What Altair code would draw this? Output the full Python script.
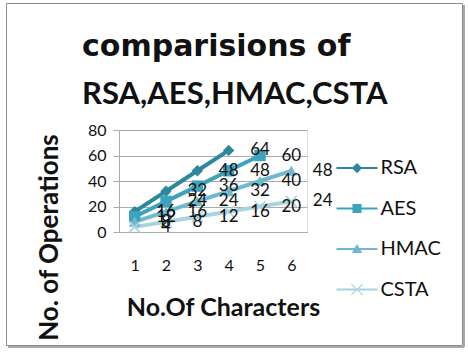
import altair as alt
import pandas as pd

# Number of operations per algorithm for 1..6 characters
chars = [1, 2, 3, 4, 5, 6]
rsa = [16, 32, 48, 64]
aes = [12, 24, 36, 48, 60]
hmac = [8, 16, 24, 32, 40, 48]
csta = [4, 8, 12, 16, 20, 24]

names = ["RSA", "AES", "HMAC", "CSTA"]
colors = ["#2F879C", "#3CA3BF", "#6FB9D0", "#A9D4DF"]

rows = []
for name, vals in zip(names, [rsa, aes, hmac, csta]):
    for c, v in zip(chars, vals):
        rows.append({"series": name, "chars": c, "ops": v})
df = pd.DataFrame(rows)

# legend symbols: a line segment with the series marker on it
bar = "M-1,-0.05L1,-0.05L1,0.05L-1,0.05Z"
legend_paths = [
    bar + "M0,-0.25L0.25,0L0,0.25L-0.25,0Z",
    bar + "M-0.22,-0.22L0.22,-0.22L0.22,0.22L-0.22,0.22Z",
    bar + "M0,-0.24L0.26,0.2L-0.26,0.2Z",
    bar + "M-0.3,-0.24L-0.26,-0.28L0,-0.04L0.26,-0.28L0.3,-0.24L0.04,0L0.3,0.24L0.26,0.28L0,0.04L-0.26,0.28L-0.3,0.24L-0.04,0Z",
]
marker_shapes = [
    "diamond",
    "square",
    "triangle-up",
    "M-1,-1L1,1M-1,1L1,-1",
]

FONT = "Lato"
GRID = "#ABABAB"

x_scale = alt.Scale(domain=[0.5, 6.5], nice=False, zero=False)
x_axis = alt.Axis(
    values=chars, grid=False, ticks=False, domain=True, domainColor=GRID,
    labelOverlap=False, labelFlush=False,
    labelFontSize=16, labelFont=FONT, labelColor="#111", labelPadding=25,
    title="No.Of Characters", titleFont=FONT, titleFontSize=25,
    titleFontWeight="bold", titleColor="#111",
    titleX=104, titleY=75, titleAlign="center", titleBaseline="middle",
)
x = alt.X("chars:Q", scale=x_scale, axis=x_axis)
y = alt.Y(
    "ops:Q",
    scale=alt.Scale(domain=[0, 80], nice=False),
    axis=alt.Axis(
        values=[0, 20, 40, 60, 80], grid=True, gridColor=GRID, domainColor=GRID,
        tickColor=GRID, tickSize=6, labelFontSize=16, labelFont=FONT,
        labelColor="#111", labelPadding=7, labelOverlap=False,
        title="No. of Operations", titleFont=FONT, titleFontSize=26,
        titleFontWeight="bold", titleColor="#111",
        titleX=-70, titleY=107, titleAlign="center", titleBaseline="middle",
    ),
)

legend = alt.Legend(
    title=None, orient="none", legendX=217.5, legendY=17.5, padding=0,
    symbolSize=1681, symbolStrokeWidth=0, symbolOpacity=1,
    labelFont=FONT, labelFontSize=20, labelColor="#111", labelOffset=3,
    rowPadding=9.5,
)
color = alt.Color("series:N", scale=alt.Scale(domain=names, range=colors),
                  legend=legend)
shape = alt.Shape("series:N", scale=alt.Scale(domain=names, range=legend_paths),
                  legend=legend)

base = alt.Chart(df)

lines = base.mark_line(strokeWidth=4).encode(x=x, y=y, color=color,
                                              order="chars:Q")

points = []
for name, shp in zip(names, marker_shapes):
    sel = base.transform_filter(alt.datum.series == name)
    if shp.startswith("M"):
        m = sel.mark_point(shape=shp, filled=False, size=120, strokeWidth=1.6,
                           opacity=1)
    else:
        m = sel.mark_point(shape=shp, filled=True, size=130, opacity=1)
    points.append(m.encode(x=x, y=y, color=color))

# legend carrier: no rows drawn, only the merged color/shape legend
legend_layer = base.transform_filter("false").mark_point(
    filled=True, opacity=1).encode(x=x, y=y, color=color, shape=shape)

# value labels sit one category to the right of their point
labels = base.transform_calculate(lx="datum.chars + 1").mark_text(
    font=FONT, fontSize=17, color="#111", align="center", baseline="middle",
    clip=False,
).encode(x=alt.X("lx:Q", scale=x_scale, axis=x_axis), y=y, text="ops:Q")

frame = alt.Chart(pd.DataFrame({"k": [0]})).mark_rect(
    fill=None, stroke="#8C8C8C", strokeWidth=1, clip=False
).encode(x=alt.value(-112.5), x2=alt.value(343.5),
         y=alt.value(-126.5), y2=alt.value(215.5))
shadow_r = alt.Chart(pd.DataFrame({"k": [0]})).mark_rule(
    stroke="#A8A8A8", strokeWidth=2
).encode(x=alt.value(345), y=alt.value(-125), y2=alt.value(217))
shadow_b = alt.Chart(pd.DataFrame({"k": [0]})).mark_rule(
    stroke="#A8A8A8", strokeWidth=2
).encode(x=alt.value(-111), x2=alt.value(345), y=alt.value(217))

chart = alt.layer(
    frame, shadow_r, shadow_b, lines, *points, legend_layer, labels
).properties(
    width=188, height=102,
    padding={"left": 119, "top": 130, "right": 162, "bottom": 124},
    autosize=alt.AutoSizeParams(type="none"),
    title=alt.TitleParams(
        text="comparisions of",
        subtitle="RSA,AES,HMAC,CSTA",
        font="DejaVu Sans", fontSize=30, fontWeight="bold", color="#111",
        subtitleFont=FONT, subtitleFontSize=31, subtitleFontWeight="bold",
        subtitleColor="#111", subtitlePadding=18,
        anchor="start", frame="group", dx=-37, offset=-131,
        baseline="alphabetic",
    ),
).configure_view(stroke=None).configure(background="white")

chart.save("out.html", embed_options={"renderer": "svg", "actions": False})
